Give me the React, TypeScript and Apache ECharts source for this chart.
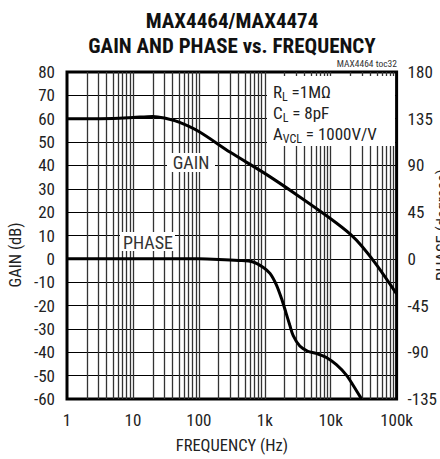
import React, { useEffect, useRef } from "react";
import * as echarts from "echarts";

const FONT = "'Liberation Sans Narrow', 'Arial Narrow', 'Roboto Condensed', 'DejaVu Sans Condensed', 'Liberation Sans', sans-serif";

// Gain curve (frequency in Hz, gain in dB)
const gainFreq = [1, 5, 10, 20, 30, 50, 100, 300, 1000, 3000, 10000, 20000, 30000, 50000, 100000];
const gainDb = [60, 60.1, 60.5, 61, 60.3, 58.5, 54.5, 45.6, 36.6, 27.6, 17.2, 10.5, 5.3, -2.7, -15];

// Phase curve (frequency in Hz, phase in degrees)
const phaseFreq = [1, 10, 100, 200, 400, 665, 940, 1200, 1500, 1790, 2100, 2400, 2700, 3400, 4500, 6000, 8600, 12200, 17300, 22000, 27500, 29500];
const phaseDeg = [0, 0, 0, -0.5, -1.5, -3, -8, -14, -25, -38, -52, -64, -74, -84, -89, -91, -95, -102, -112, -122, -132, -135];

const xTickLabels: Record<number, string> = { 1: "1", 10: "10", 100: "100", 1000: "1k", 10000: "10k", 100000: "100k" };
const decades = [1, 10, 100, 1000, 10000];
const multiples = [1, 2, 3, 4, 5, 6, 7, 8, 9];

export default function App() {
  const ref = useRef<HTMLDivElement>(null);
  useEffect(() => {
    if (!ref.current) return;
    const chart = echarts.init(ref.current, null, { renderer: "svg" });
    const gridLines: any[] = [];
    decades.forEach((d) => multiples.forEach((m) => { if (d * m > 1) gridLines.push({ xAxis: d * m }); }));

    chart.setOption({
      animation: false,
      textStyle: { fontFamily: FONT },
      grid: { left: 67, right: 43, top: 72, bottom: 58, show: true, borderColor: "#000", borderWidth: 3, backgroundColor: "transparent" },
      xAxis: {
        type: "log", logBase: 10, min: 1, max: 100000,
        axisLine: { show: false }, axisTick: { show: false }, splitLine: { show: false },
        axisLabel: { color: "#222", fontSize: 17, fontFamily: FONT, margin: 12, formatter: (v: number) => xTickLabels[Math.round(v)] ?? "" },
        name: "FREQUENCY (Hz)", nameLocation: "middle", nameGap: 38,
        nameTextStyle: { color: "#222", fontSize: 16.5, fontFamily: FONT },
      },
      yAxis: [
        {
          type: "value", min: -60, max: 80, interval: 10,
          axisLine: { show: false }, axisTick: { show: false },
          splitLine: { show: true, lineStyle: { color: "#000", width: 1.2 } },
          axisLabel: { color: "#222", fontSize: 17, fontFamily: FONT, margin: 12 },
        },
        {
          type: "value", min: -135, max: 180, interval: 45, position: "right",
          axisLine: { show: false }, axisTick: { show: false }, splitLine: { show: false },
          axisLabel: { color: "#222", fontSize: 17, fontFamily: FONT, margin: 11 },
        },
      ],
      series: [
        {
          type: "line", name: "grid", data: [], z: 1, silent: true,
          markLine: { silent: true, symbol: "none", label: { show: false }, lineStyle: { color: "#333", width: 1.3, type: "solid" }, data: gridLines, z: 1 },
        },
        {
          type: "line", name: "Gain", z: 3, smooth: 0.3, showSymbol: false, yAxisIndex: 0,
          lineStyle: { color: "#000", width: 3 },
          data: gainFreq.map((f, i) => [f, gainDb[i]]),
        },
        {
          type: "line", name: "Phase", z: 3, smooth: 0.3, showSymbol: false, yAxisIndex: 1,
          lineStyle: { color: "#000", width: 3 },
          data: phaseFreq.map((f, i) => [f, phaseDeg[i]]),
        },
      ],
      graphic: [
        { type: "text", z: 5, x: 232, y: 21, style: { text: "MAX4464/MAX4474", fontSize: 21, fontWeight: "bold", fontFamily: FONT, fill: "#111", align: "center", verticalAlign: "middle" } },
        { type: "text", z: 5, x: 232, y: 46, style: { text: "GAIN AND PHASE vs. FREQUENCY", fontSize: 21, fontWeight: "bold", fontFamily: FONT, fill: "#111", align: "center", verticalAlign: "middle" } },
        { type: "text", z: 5, x: 397, y: 63, style: { text: "MAX4464 toc32", fontSize: 9.5, fontFamily: FONT, fill: "#333", align: "right", verticalAlign: "middle" } },
        { type: "text", z: 5, x: 15, y: 255, rotation: Math.PI / 2, style: { text: "GAIN (dB)", fontSize: 16.5, fontFamily: FONT, fill: "#222", align: "center", verticalAlign: "middle" } },
        { type: "text", z: 5, x: 442, y: 225, rotation: Math.PI / 2, style: { text: "PHASE (degrees)", fontSize: 16.5, fontFamily: FONT, fill: "#222", align: "center", verticalAlign: "middle" } },
        { type: "rect", z: 2, shape: { x: 267, y: 76, width: 128, height: 70 }, style: { fill: "#fff" } },
        { type: "rect", z: 2, shape: { x: 167, y: 153, width: 48, height: 19 }, style: { fill: "#fff" } },
        { type: "rect", z: 2, shape: { x: 120, y: 232, width: 55, height: 19 }, style: { fill: "#fff" } },
        { type: "text", z: 5, x: 191, y: 162, style: { text: "GAIN", fontSize: 18, fontFamily: FONT, fill: "#333", align: "center", verticalAlign: "middle" } },
        { type: "text", z: 5, x: 148, y: 242, style: { text: "PHASE", fontSize: 18, fontFamily: FONT, fill: "#333", align: "center", verticalAlign: "middle" } },
        {
          type: "text", z: 5, x: 273, y: 92,
          style: {
            text: "{a|R}{s|L}{a| =1MΩ}", fontFamily: FONT, fill: "#222", verticalAlign: "middle",
            rich: { a: { fontSize: 17, fontFamily: FONT, fill: "#222" }, s: { fontSize: 12, fontFamily: FONT, fill: "#222", padding: [9, 0, 0, 0] } },
          },
        },
        {
          type: "text", z: 5, x: 273, y: 113,
          style: {
            text: "{a|C}{s|L}{a| = 8pF}", fontFamily: FONT, fill: "#222", verticalAlign: "middle",
            rich: { a: { fontSize: 17, fontFamily: FONT, fill: "#222" }, s: { fontSize: 12, fontFamily: FONT, fill: "#222", padding: [9, 0, 0, 0] } },
          },
        },
        {
          type: "text", z: 5, x: 273, y: 134,
          style: {
            text: "{a|A}{s|VCL}{a| = 1000V/V}", fontFamily: FONT, fill: "#222", verticalAlign: "middle",
            rich: { a: { fontSize: 17, fontFamily: FONT, fill: "#222" }, s: { fontSize: 12, fontFamily: FONT, fill: "#222", padding: [9, 0, 0, 0] } },
          },
        },
      ],
    });
    return () => chart.dispose();
  }, []);
  return <div ref={ref} style={{ width: 440, height: 459, position: "absolute", left: 0, top: 0 }} />;
}
